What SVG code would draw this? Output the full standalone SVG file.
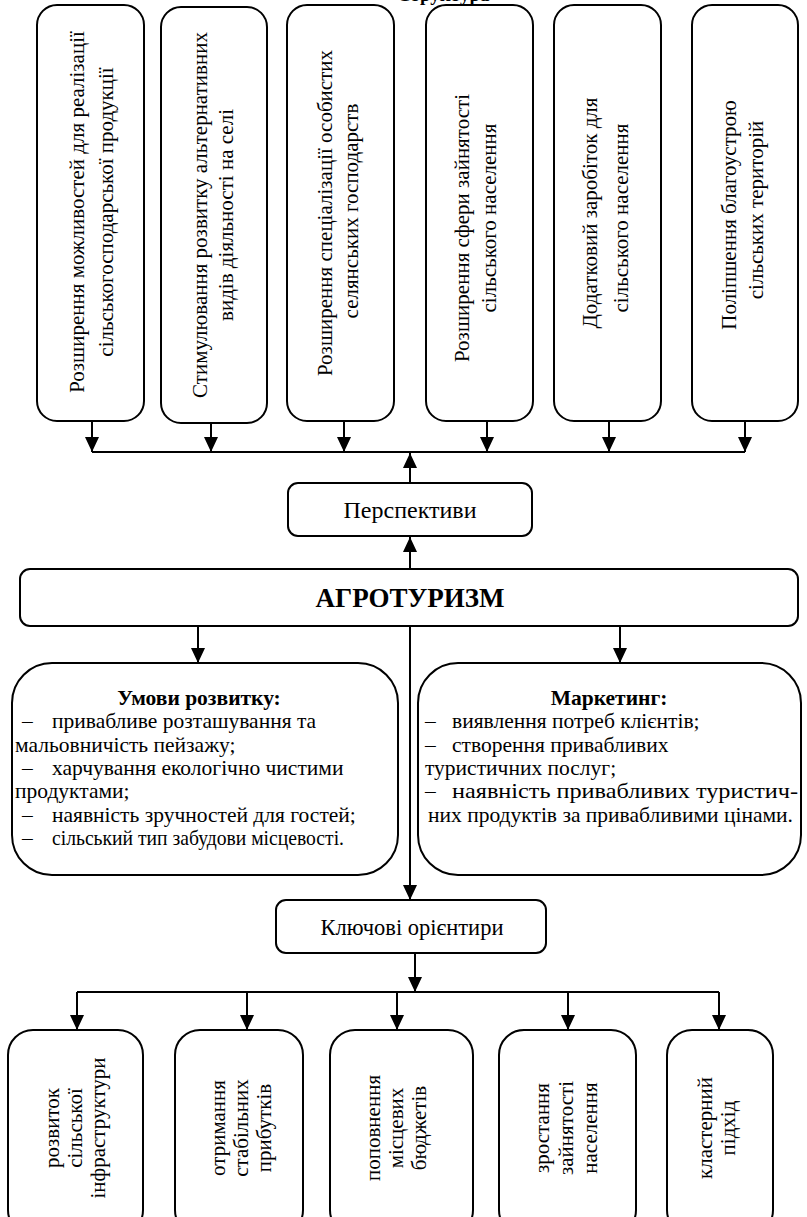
<svg xmlns="http://www.w3.org/2000/svg" width="807" height="1217" viewBox="0 0 807 1217" font-family="Liberation Serif, Times New Roman, serif">
<defs>
<style>
.box{fill:#fff;stroke:#000;stroke-width:2}
.t{font-family:"Liberation Serif","Times New Roman",serif;font-size:21px;fill:#000}
.c{text-anchor:middle}
.b{font-weight:bold}
.ln{fill:none;stroke:#000;stroke-width:2}
</style>
<marker id="ah" markerWidth="15" markerHeight="14" refX="15" refY="7" orient="auto" markerUnits="userSpaceOnUse"><path d="M0,0 L15,7 L0,14 z" fill="#000"/></marker>
</defs>
<rect width="807" height="1217" fill="#fff"/>
<text class="t b" x="397" y="1" style="font-size:19px">Структура</text>

<g id="top1"><rect class="box" x="37" y="5" width="107" height="416" rx="20"/>
<text class="t c" transform="translate(84,212) rotate(-90)">Розширення можливостей для реалізації</text>
<text class="t c" transform="translate(113,212) rotate(-90)">сільськогосподарської продукції</text></g>
<g id="top2"><rect class="box" x="161" y="7" width="106" height="416" rx="20"/>
<text class="t c" transform="translate(207,215) rotate(-90)">Стимулювання розвитку альтернативних</text>
<text class="t c" transform="translate(233,215) rotate(-90)">видів діяльності на селі</text></g>
<g id="top3"><rect class="box" x="287" y="5" width="107" height="416" rx="20"/>
<text class="t c" transform="translate(332,213) rotate(-90)">Розширення спеціалізації особистих</text>
<text class="t c" transform="translate(358,211) rotate(-90)">селянських господарств</text></g>
<g id="top4"><rect class="box" x="426" y="5" width="107" height="416" rx="20"/>
<text class="t c" transform="translate(469,228) rotate(-90)">Розширення сфери зайнятості</text>
<text class="t c" transform="translate(496,218) rotate(-90)">сільського населення</text></g>
<g id="top5"><rect class="box" x="554" y="5" width="107" height="416" rx="20"/>
<text class="t c" transform="translate(597,213) rotate(-90)">Додатковий заробіток для</text>
<text class="t c" transform="translate(628,218) rotate(-90)">сільського населення</text></g>
<g id="top6"><rect class="box" x="692" y="5" width="106" height="416" rx="20"/>
<text class="t c" transform="translate(736,215) rotate(-90)">Поліпшення благоустрою</text>
<text class="t c" transform="translate(763,210) rotate(-90)">сільських територій</text></g>

<g id="perspektyvy"><rect class="box" x="288" y="483" width="244" height="53" rx="10"/>
<text class="t c" x="410" y="518" style="font-size:24px">Перспективи</text></g>

<g id="agroturyzm"><rect class="box" x="20" y="569" width="778" height="57" rx="10"/>
<text class="t c b" x="410" y="607" style="font-size:27px">АГРОТУРИЗМ</text></g>

<g id="umovy"><rect class="box" x="12" y="663" width="386" height="212" rx="40"/>
<text class="t c b" x="199" y="705" style="font-size:21.5px">Умови розвитку:</text>
<text class="t" style="font-size:21.5px">
<tspan x="22" y="728">–</tspan><tspan x="52" y="728">привабливе розташування та</tspan>
<tspan x="15" y="752">мальовничість пейзажу;</tspan>
<tspan x="22" y="775">–</tspan><tspan x="52" y="775">харчування екологічно чистими</tspan>
<tspan x="15" y="798">продуктами;</tspan>
<tspan x="22" y="822">–</tspan><tspan x="52" y="822">наявність зручностей для гостей;</tspan>
<tspan x="22" y="845">–</tspan><tspan x="52" y="845" textLength="292" lengthAdjust="spacingAndGlyphs">сільський тип забудови місцевості.</tspan>
</text></g>

<g id="marketynh"><rect class="box" x="418" y="663" width="383" height="212" rx="40"/>
<text class="t c b" x="609" y="705" style="font-size:21.5px">Маркетинг:</text>
<text class="t" style="font-size:21.5px">
<tspan x="425" y="728">–</tspan><tspan x="452" y="728">виявлення потреб клієнтів;</tspan>
<tspan x="425" y="752">–</tspan><tspan x="452" y="752">створення привабливих</tspan>
<tspan x="425" y="775">туристичних послуг;</tspan>
<tspan x="425" y="798">–</tspan><tspan x="452" y="798" textLength="346" lengthAdjust="spacingAndGlyphs">наявність привабливих туристич-</tspan>
<tspan x="428" y="822" textLength="365" lengthAdjust="spacingAndGlyphs">них продуктів за привабливими цінами.</tspan>
</text></g>

<g id="kliuchovi"><rect class="box" x="276" y="900" width="270" height="53" rx="10"/>
<text class="t c" x="412" y="935" style="font-size:22.5px">Ключові орієнтири</text></g>

<g id="b1"><rect class="box" x="8" y="1030" width="135" height="205" rx="25"/>
<text class="t c" transform="translate(59,1128) rotate(-90)">розвиток</text>
<text class="t c" transform="translate(82,1128) rotate(-90)">сільської</text>
<text class="t c" transform="translate(105,1128) rotate(-90)">інфраструктури</text></g>
<g id="b2"><rect class="box" x="175" y="1030" width="128" height="205" rx="25"/>
<text class="t c" transform="translate(225,1128) rotate(-90)">отримання</text>
<text class="t c" transform="translate(248,1128) rotate(-90)">стабільних</text>
<text class="t c" transform="translate(271,1128) rotate(-90)">прибутків</text></g>
<g id="b3"><rect class="box" x="330" y="1030" width="143" height="205" rx="25"/>
<text class="t c" transform="translate(380,1128) rotate(-90)">поповнення</text>
<text class="t c" transform="translate(403,1128) rotate(-90)">місцевих</text>
<text class="t c" transform="translate(426,1128) rotate(-90)">бюджетів</text></g>
<g id="b4"><rect class="box" x="499" y="1030" width="137" height="205" rx="25"/>
<text class="t c" transform="translate(549,1128) rotate(-90)">зростання</text>
<text class="t c" transform="translate(573,1128) rotate(-90)">зайнятості</text>
<text class="t c" transform="translate(597,1128) rotate(-90)">населення</text></g>
<g id="b5"><rect class="box" x="667" y="1030" width="106" height="205" rx="25"/>
<text class="t c" transform="translate(712,1128) rotate(-90)">кластерний</text>
<text class="t c" transform="translate(735,1128) rotate(-90)">підхід</text></g>

<g id="connectors">
<path class="ln" d="M92,421V452" marker-end="url(#ah)"/>
<path class="ln" d="M211,423V452" marker-end="url(#ah)"/>
<path class="ln" d="M344,421V452" marker-end="url(#ah)"/>
<path class="ln" d="M487,421V452" marker-end="url(#ah)"/>
<path class="ln" d="M609,421V452" marker-end="url(#ah)"/>
<path class="ln" d="M745,421V452" marker-end="url(#ah)"/>
<path class="ln" d="M92,452H745"/>
<path class="ln" d="M410,483V453" marker-end="url(#ah)"/>
<path class="ln" d="M410,569V537" marker-end="url(#ah)"/>
<path class="ln" d="M198,626V663" marker-end="url(#ah)"/>
<path class="ln" d="M620,626V663" marker-end="url(#ah)"/>
<path class="ln" d="M410,626V900" marker-end="url(#ah)"/>
<path class="ln" d="M415,953V992" marker-end="url(#ah)"/>
<path class="ln" d="M77,992H719"/>
<path class="ln" d="M77,992V1030" marker-end="url(#ah)"/>
<path class="ln" d="M247,992V1030" marker-end="url(#ah)"/>
<path class="ln" d="M397,992V1030" marker-end="url(#ah)"/>
<path class="ln" d="M568,992V1030" marker-end="url(#ah)"/>
<path class="ln" d="M719,992V1030" marker-end="url(#ah)"/>
</g>
</svg>
